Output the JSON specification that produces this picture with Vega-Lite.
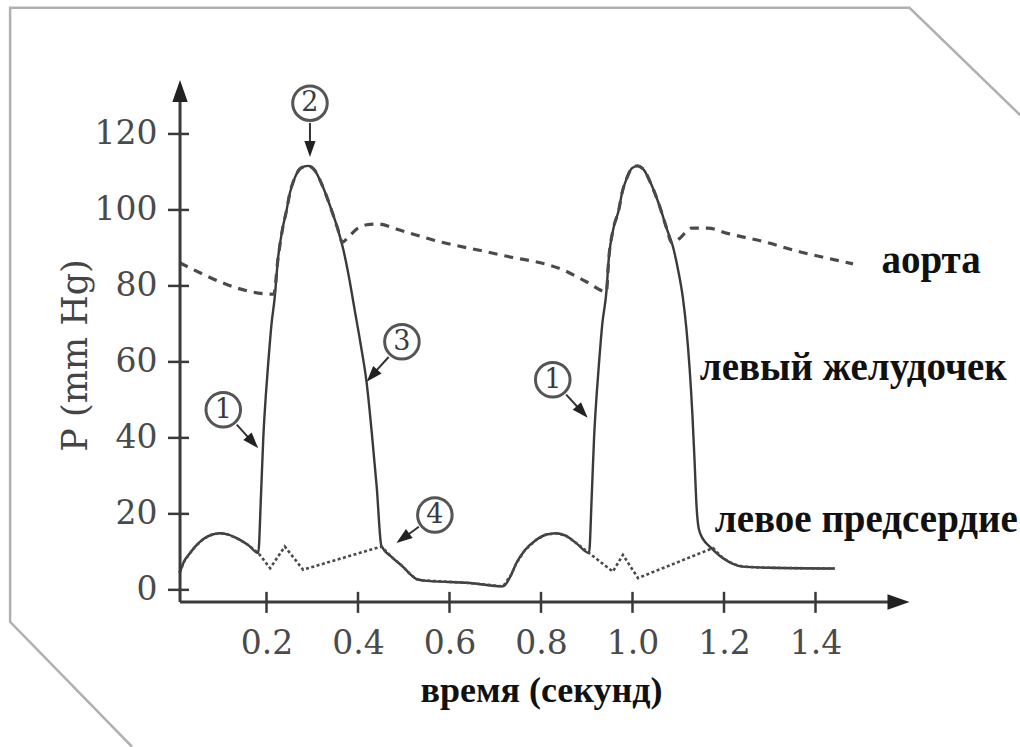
{
  "$schema": "https://vega.github.io/schema/vega-lite/v6.json",
  "width": 732,
  "height": 522,
  "autosize": {"type": "none"},
  "padding": {"left": 175, "top": 80, "right": 113, "bottom": 145},
  "background": "white",
  "config": {"view": {"stroke": null}},
  "datasets": {
    "frame": [
      {"i": 0, "t": -0.094, "p": -41.3},
      {"i": 1, "t": -0.3604, "p": -8.42},
      {"i": 2, "t": -0.3604, "p": 153.2},
      {"i": 3, "t": 1.6055, "p": 153.2},
      {"i": 4, "t": 1.8676, "p": 122.6}
    ],
    "lv": [
      {"t": 0.01, "p": 4.5}, {"t": 0.02, "p": 7.5}, {"t": 0.033, "p": 9.7}, {"t": 0.045, "p": 11.5},
      {"t": 0.062, "p": 13.4}, {"t": 0.08, "p": 14.5}, {"t": 0.098, "p": 14.9}, {"t": 0.115, "p": 14.6},
      {"t": 0.135, "p": 13.6}, {"t": 0.16, "p": 11.8}, {"t": 0.182, "p": 9.7}, {"t": 0.188, "p": 25},
      {"t": 0.193, "p": 40}, {"t": 0.199, "p": 52}, {"t": 0.204, "p": 60}, {"t": 0.211, "p": 70},
      {"t": 0.218, "p": 77}, {"t": 0.225, "p": 87}, {"t": 0.235, "p": 95}, {"t": 0.244, "p": 100},
      {"t": 0.251, "p": 104.4}, {"t": 0.262, "p": 108.5}, {"t": 0.275, "p": 111}, {"t": 0.291, "p": 111.6},
      {"t": 0.305, "p": 110.5}, {"t": 0.32, "p": 107}, {"t": 0.342, "p": 100}, {"t": 0.355, "p": 95.3},
      {"t": 0.368, "p": 89.5}, {"t": 0.38, "p": 82.5}, {"t": 0.393, "p": 73.5}, {"t": 0.406, "p": 64.5},
      {"t": 0.419, "p": 54.4}, {"t": 0.43, "p": 41.5}, {"t": 0.441, "p": 27}, {"t": 0.451, "p": 11.6},
      {"t": 0.475, "p": 8.5}, {"t": 0.499, "p": 6}, {"t": 0.515, "p": 4}, {"t": 0.528, "p": 2.8},
      {"t": 0.54, "p": 2.5}, {"t": 0.644, "p": 1.8}, {"t": 0.717, "p": 0.9}, {"t": 0.735, "p": 4},
      {"t": 0.746, "p": 7}, {"t": 0.765, "p": 10.5}, {"t": 0.79, "p": 13.2}, {"t": 0.81, "p": 14.5},
      {"t": 0.834, "p": 14.9}, {"t": 0.855, "p": 14.2}, {"t": 0.877, "p": 12.3}, {"t": 0.905, "p": 9.7},
      {"t": 0.911, "p": 25}, {"t": 0.916, "p": 40}, {"t": 0.922, "p": 52}, {"t": 0.927, "p": 60},
      {"t": 0.934, "p": 70}, {"t": 0.943, "p": 78.5}, {"t": 0.948, "p": 87}, {"t": 0.958, "p": 95},
      {"t": 0.97, "p": 100}, {"t": 0.977, "p": 104.4}, {"t": 0.988, "p": 108.5}, {"t": 0.999, "p": 111},
      {"t": 1.011, "p": 111.6}, {"t": 1.025, "p": 110.5}, {"t": 1.04, "p": 107}, {"t": 1.062, "p": 100},
      {"t": 1.075, "p": 95}, {"t": 1.088, "p": 90.5}, {"t": 1.1, "p": 84}, {"t": 1.11, "p": 77},
      {"t": 1.118, "p": 68.5}, {"t": 1.125, "p": 58}, {"t": 1.131, "p": 46}, {"t": 1.136, "p": 33},
      {"t": 1.14, "p": 22}, {"t": 1.145, "p": 16}, {"t": 1.155, "p": 13.2}, {"t": 1.169, "p": 11.4},
      {"t": 1.198, "p": 8.3}, {"t": 1.22, "p": 6.8}, {"t": 1.241, "p": 6.1}, {"t": 1.3, "p": 5.8},
      {"t": 1.442, "p": 5.6}
    ],
    "la": [
      {"t": 0.01, "p": 4.5}, {"t": 0.02, "p": 7.5}, {"t": 0.033, "p": 9.7}, {"t": 0.045, "p": 11.5},
      {"t": 0.062, "p": 13.4}, {"t": 0.08, "p": 14.5}, {"t": 0.098, "p": 14.9}, {"t": 0.115, "p": 14.6},
      {"t": 0.135, "p": 13.6}, {"t": 0.16, "p": 11.8}, {"t": 0.182, "p": 9.7}, {"t": 0.208, "p": 5.7},
      {"t": 0.24, "p": 11.4}, {"t": 0.28, "p": 5.3}, {"t": 0.451, "p": 11.4}, {"t": 0.475, "p": 8.5},
      {"t": 0.499, "p": 6}, {"t": 0.515, "p": 4}, {"t": 0.528, "p": 2.8}, {"t": 0.54, "p": 2.5},
      {"t": 0.644, "p": 1.8}, {"t": 0.717, "p": 0.9}, {"t": 0.735, "p": 4}, {"t": 0.746, "p": 7},
      {"t": 0.765, "p": 10.5}, {"t": 0.79, "p": 13.2}, {"t": 0.81, "p": 14.5}, {"t": 0.834, "p": 14.9},
      {"t": 0.855, "p": 14.2}, {"t": 0.877, "p": 12.3}, {"t": 0.905, "p": 9.7}, {"t": 0.957, "p": 4.8},
      {"t": 0.979, "p": 9.2}, {"t": 1.012, "p": 3.1}, {"t": 1.176, "p": 11}, {"t": 1.198, "p": 8.3},
      {"t": 1.22, "p": 6.8}, {"t": 1.241, "p": 6.1}, {"t": 1.3, "p": 5.8}, {"t": 1.442, "p": 5.6}
    ],
    "aorta": [
      {"t": 0.01, "p": 86.1}, {"t": 0.216, "p": 77.8}, {"t": 0.225, "p": 87}, {"t": 0.235, "p": 95},
      {"t": 0.244, "p": 100}, {"t": 0.251, "p": 104.4}, {"t": 0.262, "p": 108.5}, {"t": 0.275, "p": 111},
      {"t": 0.291, "p": 111.6}, {"t": 0.305, "p": 110.5}, {"t": 0.32, "p": 107}, {"t": 0.342, "p": 100},
      {"t": 0.355, "p": 95.3}, {"t": 0.366, "p": 91.5}, {"t": 0.38, "p": 93}, {"t": 0.4, "p": 95.2},
      {"t": 0.419, "p": 96.1}, {"t": 0.443, "p": 96.3}, {"t": 0.491, "p": 94.7}, {"t": 0.564, "p": 92.1},
      {"t": 0.71, "p": 88.2}, {"t": 0.856, "p": 83.8}, {"t": 0.899, "p": 81.1}, {"t": 0.943, "p": 78.5},
      {"t": 0.948, "p": 87}, {"t": 0.958, "p": 95}, {"t": 0.97, "p": 100}, {"t": 0.977, "p": 104.4},
      {"t": 0.988, "p": 108.5}, {"t": 0.999, "p": 111}, {"t": 1.011, "p": 111.6}, {"t": 1.025, "p": 110.5},
      {"t": 1.04, "p": 107}, {"t": 1.062, "p": 100}, {"t": 1.075, "p": 95}, {"t": 1.086, "p": 91.3},
      {"t": 1.103, "p": 92.5}, {"t": 1.118, "p": 94.3}, {"t": 1.129, "p": 95.2}, {"t": 1.165, "p": 95.2},
      {"t": 1.205, "p": 93.9}, {"t": 1.285, "p": 91.7}, {"t": 1.365, "p": 89}, {"t": 1.445, "p": 86.8},
      {"t": 1.482, "p": 85.8}
    ],
    "yticks": [{"p": 0}, {"p": 20}, {"p": 40}, {"p": 60}, {"p": 80}, {"p": 100}, {"p": 120}],
    "xticks": [{"t": 0.2}, {"t": 0.4}, {"t": 0.6}, {"t": 0.8}, {"t": 1.0}, {"t": 1.2}, {"t": 1.4}],
    "arrows": [
      {"id": "a2", "t": 0.295, "p": 122.9, "t2": 0.295, "p2": 116.0},
      {"id": "a1", "t": 0.135, "p": 43.5, "t2": 0.170, "p2": 38.8},
      {"id": "a3", "t": 0.467, "p": 61.3, "t2": 0.430, "p2": 56.4},
      {"id": "a4", "t": 0.533, "p": 16.6, "t2": 0.498, "p2": 13.5},
      {"id": "b1", "t": 0.855, "p": 51.4, "t2": 0.890, "p2": 46.8}
    ],
    "circles": [
      {"n": "1", "t": 0.1055, "p": 47.4},
      {"n": "2", "t": 0.295, "p": 128.1},
      {"n": "3", "t": 0.496, "p": 65.3},
      {"n": "4", "t": 0.568, "p": 19.7},
      {"n": "1", "t": 0.8257, "p": 55.3}
    ],
    "labels": [
      {"label": "аорта", "t": 1.544, "p": 83.4},
      {"label": "левый желудочек", "t": 1.147, "p": 55.25},
      {"label": "левое предсердие", "t": 1.18, "p": 15.3}
    ]
  },
  "layer": [
    {
      "data": {"name": "lv"},
      "mark": {"type": "line", "interpolate": "monotone", "stroke": "#3a3a3a", "strokeWidth": 2.4},
      "encoding": {
        "x": {
          "field": "t", "type": "quantitative",
          "scale": {"domain": [0, 1.6], "nice": false, "zero": false},
          "axis": {
            "values": [0.2, 0.4, 0.6, 0.8, 1.0, 1.2, 1.4], "format": ".1f",
            "domain": false, "ticks": false, "grid": false,
            "labelFont": "DejaVu Serif", "labelFontSize": 33, "labelColor": "#4a4a4a",
            "labelPadding": 25, "labelFlush": false, "labelOverlap": false,
            "title": "время (секунд)", "titleFont": "Liberation Serif", "titleFontSize": 36,
            "titleFontWeight": "bold", "titleColor": "#111", "titleBaseline": "alphabetic",
            "titleAlign": "center", "titleX": 366, "titleY": 99
          }
        },
        "y": {
          "field": "p", "type": "quantitative",
          "scale": {"domain": [-3.2, 134.2], "nice": false, "zero": false},
          "axis": {
            "values": [0, 20, 40, 60, 80, 100, 120],
            "domain": false, "ticks": false, "grid": false,
            "labelFont": "DejaVu Serif", "labelFontSize": 33, "labelColor": "#4a4a4a",
            "labelPadding": 18, "labelFlush": false, "labelOverlap": false,
            "title": "P (mm Hg)", "titleFont": "DejaVu Serif", "titleFontSize": 35,
            "titleFontWeight": "normal", "titleColor": "#444", "titleAngle": 270,
            "titleAlign": "center", "titleBaseline": "middle", "titleX": -100, "titleY": 275
          }
        }
      }
    },
    {
      "data": {"name": "frame"},
      "mark": {"type": "line", "stroke": "#b0b0b0", "strokeWidth": 2.5, "clip": false},
      "encoding": {
        "x": {"field": "t", "type": "quantitative"},
        "y": {"field": "p", "type": "quantitative"},
        "order": {"field": "i"}
      }
    },
    {
      "data": {"name": "la"},
      "mark": {"type": "line", "stroke": "#4a4a4a", "strokeWidth": 2.6, "strokeDash": [3, 2.5]},
      "encoding": {
        "x": {"field": "t", "type": "quantitative"},
        "y": {"field": "p", "type": "quantitative"}
      }
    },
    {
      "data": {"name": "aorta"},
      "mark": {"type": "line", "interpolate": "monotone", "stroke": "#4a4a4a", "strokeWidth": 3.2, "strokeDash": [9, 7]},
      "encoding": {
        "x": {"field": "t", "type": "quantitative"},
        "y": {"field": "p", "type": "quantitative"}
      }
    },
    {
      "data": {"values": [{"t": 0.011, "p": -3.2}]},
      "mark": {"type": "rule", "stroke": "#3a3a3a", "strokeWidth": 3, "clip": false},
      "encoding": {
        "x": {"field": "t", "type": "quantitative"},
        "y": {"field": "p", "type": "quantitative"},
        "y2": {"datum": 130}
      }
    },
    {
      "data": {"values": [{"t": 0.011, "p": -3.2}]},
      "mark": {"type": "rule", "stroke": "#3a3a3a", "strokeWidth": 3, "clip": false},
      "encoding": {
        "x": {"field": "t", "type": "quantitative"},
        "x2": {"datum": 1.58},
        "y": {"field": "p", "type": "quantitative"}
      }
    },
    {
      "data": {"name": "yticks"},
      "mark": {"type": "rule", "stroke": "#3a3a3a", "strokeWidth": 2.5, "clip": false},
      "encoding": {
        "x": {"datum": -0.0153, "type": "quantitative"},
        "x2": {"datum": 0.0306},
        "y": {"field": "p", "type": "quantitative"}
      }
    },
    {
      "data": {"name": "xticks"},
      "mark": {"type": "rule", "stroke": "#3a3a3a", "strokeWidth": 2.5, "clip": false},
      "encoding": {
        "x": {"field": "t", "type": "quantitative"},
        "y": {"datum": -0.53, "type": "quantitative"},
        "y2": {"datum": -6.06}
      }
    },
    {
      "data": {"values": [{"t": 0.011, "p": 134.2}]},
      "mark": {"type": "point", "shape": "M0,0L0.7,2L-0.7,2Z", "size": 484, "filled": true, "fill": "#222", "opacity": 1, "angle": 0, "clip": false},
      "encoding": {
        "x": {"field": "t", "type": "quantitative"},
        "y": {"field": "p", "type": "quantitative"}
      }
    },
    {
      "data": {"values": [{"t": 1.6055, "p": -3.2}]},
      "mark": {"type": "point", "shape": "M0,0L0.7,2L-0.7,2Z", "size": 484, "filled": true, "fill": "#222", "opacity": 1, "angle": 90, "clip": false},
      "encoding": {
        "x": {"field": "t", "type": "quantitative"},
        "y": {"field": "p", "type": "quantitative"}
      }
    },
    {
      "data": {"name": "arrows"},
      "mark": {"type": "rule", "stroke": "#333", "strokeWidth": 2},
      "encoding": {
        "x": {"field": "t", "type": "quantitative"},
        "y": {"field": "p", "type": "quantitative"},
        "x2": {"field": "t2"},
        "y2": {"field": "p2"}
      }
    },
    {
      "data": {"values": [{"t": 0.295, "p": 113.9}]},
      "mark": {"type": "point", "shape": "M0,0L0.7,2L-0.7,2Z", "size": 256, "filled": true, "fill": "#222", "opacity": 1, "angle": 180},
      "encoding": {"x": {"field": "t", "type": "quantitative"}, "y": {"field": "p", "type": "quantitative"}}
    },
    {
      "data": {"values": [{"t": 0.182, "p": 37.3}]},
      "mark": {"type": "point", "shape": "M0,0L0.7,2L-0.7,2Z", "size": 256, "filled": true, "fill": "#222", "opacity": 1, "angle": 137.6},
      "encoding": {"x": {"field": "t", "type": "quantitative"}, "y": {"field": "p", "type": "quantitative"}}
    },
    {
      "data": {"values": [{"t": 0.419, "p": 54.8}]},
      "mark": {"type": "point", "shape": "M0,0L0.7,2L-0.7,2Z", "size": 256, "filled": true, "fill": "#222", "opacity": 1, "angle": 222},
      "encoding": {"x": {"field": "t", "type": "quantitative"}, "y": {"field": "p", "type": "quantitative"}}
    },
    {
      "data": {"values": [{"t": 0.484, "p": 12.3}]},
      "mark": {"type": "point", "shape": "M0,0L0.7,2L-0.7,2Z", "size": 256, "filled": true, "fill": "#222", "opacity": 1, "angle": 233.5},
      "encoding": {"x": {"field": "t", "type": "quantitative"}, "y": {"field": "p", "type": "quantitative"}}
    },
    {
      "data": {"values": [{"t": 0.902, "p": 45.3}]},
      "mark": {"type": "point", "shape": "M0,0L0.7,2L-0.7,2Z", "size": 256, "filled": true, "fill": "#222", "opacity": 1, "angle": 137.6},
      "encoding": {"x": {"field": "t", "type": "quantitative"}, "y": {"field": "p", "type": "quantitative"}}
    },
    {
      "data": {"name": "circles"},
      "mark": {"type": "point", "shape": "circle", "size": 1195, "filled": false, "fill": "white", "fillOpacity": 1, "stroke": "#555", "strokeWidth": 3, "opacity": 1, "clip": false},
      "encoding": {"x": {"field": "t", "type": "quantitative"}, "y": {"field": "p", "type": "quantitative"}}
    },
    {
      "data": {"name": "circles"},
      "mark": {"type": "text", "font": "DejaVu Serif", "fontSize": 27, "fontWeight": "normal", "fill": "#3a3a3a", "align": "center", "baseline": "middle", "clip": false},
      "encoding": {
        "x": {"field": "t", "type": "quantitative"},
        "y": {"field": "p", "type": "quantitative"},
        "text": {"field": "n"}
      }
    },
    {
      "data": {"name": "labels"},
      "mark": {"type": "text", "font": "Liberation Serif", "fontWeight": "bold", "fontSize": 39, "fill": "#111", "align": "left", "baseline": "alphabetic", "clip": false},
      "encoding": {
        "x": {"field": "t", "type": "quantitative"},
        "y": {"field": "p", "type": "quantitative"},
        "text": {"field": "label"}
      }
    }
  ]
}
